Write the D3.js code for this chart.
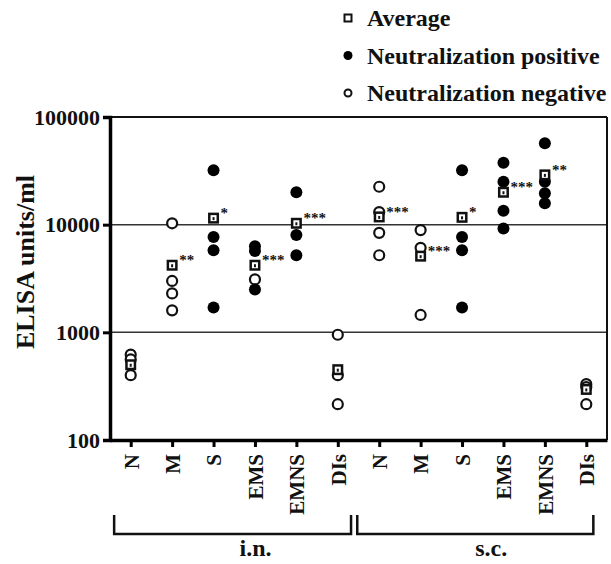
<!DOCTYPE html>
<html>
<head>
<meta charset="utf-8">
<script src="https://cdn.jsdelivr.net/npm/d3@7"></script>
<style>
  body { margin: 0; background: #fff; }
  svg text { font-family: "Liberation Serif", "Times New Roman", serif; font-weight: bold; }
</style>
</head>
<body>
<div id="chart"></div>
<script>
// data, i.n. group first then s.c.
const routes = ["i.n.", "s.c."];
const categories = ["N", "M", "S", "EMS", "EMNS", "DIs"];
const positiveValues = [
  [], [], [32000, 7700, 5800, 1700], [6300, 5700, 2500], [20000, 8000, 5200], [],
  [], [], [32000, 7700, 5800, 1700], [37500, 25000, 13500, 9200], [57000, 25000, 19600, 15800], []
];
const negativeValues = [
  [620, 560, 400], [10300, 3000, 2300, 1600], [], [3100], [], [950, 400, 215],
  [22500, 13100, 8400, 5200], [8900, 6100, 1450], [], [], [], [330, 310, 215]
];
const averages = [500, 4200, 11500, 4200, 10300, 450, 11800, 5100, 11700, 20000, 29000, 295];
const significance = ["", "**", "*", "***", "***", "", "***", "***", "*", "***", "**", ""];
const yTicks = [100, 1000, 10000, 100000];
const legendItems = ["Average", "Neutralization positive", "Neutralization negative"];

const width = 611, height = 564;
const margin = { top: 117, right: 4, bottom: 124, left: 110 };
const plotW = width - margin.left - margin.right;
const plotH = height - margin.top - margin.bottom;

const svg = d3.select("#chart").append("svg")
  .attr("width", width)
  .attr("height", height);

const g = svg.append("g")
  .attr("transform", `translate(${margin.left},${margin.top})`);

// one slot per route/category pair
const keys = [];
routes.forEach(r => categories.forEach(c => keys.push(r + "|" + c)));

const x = d3.scalePoint().domain(keys).range([0, plotW]).padding(0.5);
const y = d3.scaleLog().domain([100, 100000]).range([plotH, 0]);

// horizontal reference lines + frame
g.selectAll(".hline")
  .data([1000, 10000])
  .enter().append("line")
    .attr("x1", 0).attr("x2", plotW)
    .attr("y1", d => y(d)).attr("y2", d => y(d))
    .attr("stroke", "#333").attr("stroke-width", 1.5);

g.append("line")
  .attr("x1", 0).attr("x2", plotW)
  .attr("y1", y(100000)).attr("y2", y(100000))
  .attr("stroke", "#111").attr("stroke-width", 2);
g.append("line")
  .attr("x1", plotW).attr("x2", plotW)
  .attr("y1", 0).attr("y2", plotH)
  .attr("stroke", "#111").attr("stroke-width", 2);

// y axis
const yAxis = g.append("g")
  .call(d3.axisLeft(y).tickValues(yTicks).tickFormat(d3.format("d")).tickSize(7).tickPadding(3));
yAxis.select(".domain").attr("stroke-width", 3.5).attr("stroke", "#000");
yAxis.selectAll(".tick line").attr("stroke-width", 3).attr("stroke", "#000");
yAxis.selectAll("text")
  .style("font-size", "22px")
  .attr("fill", "#111");

// x axis
const xAxis = g.append("g")
  .attr("transform", `translate(0,${plotH})`)
  .call(d3.axisBottom(x).tickSize(7).tickSizeOuter(0).tickFormat(d => d.split("|")[1]));
xAxis.select(".domain").attr("stroke-width", 3.5).attr("stroke", "#000");
xAxis.selectAll(".tick line").attr("stroke-width", 3).attr("stroke", "#000");
xAxis.selectAll("text")
  .attr("transform", "rotate(-90)")
  .attr("x", -14)
  .attr("y", 0)
  .attr("dy", "0.35em")
  .style("text-anchor", "end")
  .style("font-size", "21px")
  .attr("fill", "#111");

// y title
svg.append("text")
  .attr("transform", `translate(34,${margin.top + 145}) rotate(-90)`)
  .attr("text-anchor", "middle")
  .style("font-size", "26px")
  .attr("fill", "#111")
  .text("ELISA units/ml");

// points
const negPts = [], posPts = [];
keys.forEach((k, i) => {
  negativeValues[i].forEach(v => negPts.push({ k, v }));
  positiveValues[i].forEach(v => posPts.push({ k, v }));
});

g.selectAll(".neg")
  .data(negPts)
  .enter().append("circle")
    .attr("cx", d => x(d.k))
    .attr("cy", d => y(d.v))
    .attr("r", 5)
    .attr("fill", "#fff")
    .attr("stroke", "#111")
    .attr("stroke-width", 2.2);

g.selectAll(".pos")
  .data(posPts)
  .enter().append("circle")
    .attr("cx", d => x(d.k))
    .attr("cy", d => y(d.v))
    .attr("r", 6)
    .attr("fill", "#000");

// average markers
const avg = g.selectAll(".avg")
  .data(keys.map((k, i) => ({ k, v: averages[i], s: significance[i] })))
  .enter().append("g")
    .attr("transform", d => `translate(${x(d.k)},${y(d.v)})`);

avg.append("rect")
  .attr("x", -5.5).attr("y", -5.5)
  .attr("width", 11).attr("height", 11)
  .attr("fill", "#111");
avg.append("rect")
  .attr("x", -3).attr("y", -3)
  .attr("width", 6).attr("height", 6)
  .attr("fill", "#fff");
avg.append("rect")
  .attr("x", -1).attr("y", -1)
  .attr("width", 2).attr("height", 3)
  .attr("fill", "#111");

avg.append("text")
  .attr("x", 7)
  .attr("y", 0)
  .style("font-size", "15px")
  .attr("fill", "#111")
  .text(d => d.s);

// route brackets under the category labels
const step = x.step();
routes.forEach((r, i) => {
  const first = x(r + "|" + categories[0]);
  const last = x(r + "|" + categories[categories.length - 1]);
  const x0 = first - step * (i === 0 ? 0.4 : 0.53);
  const x1 = last + step * (i === 0 ? 0.32 : 0.17);
  const top = 515, bottom = 534;
  svg.append("path")
    .attr("d", `M${margin.left + x0},${top}V${bottom}H${margin.left + x1}V${top}`)
    .attr("fill", "none")
    .attr("stroke", "#111")
    .attr("stroke-width", 2.5);
  svg.append("text")
    .attr("x", margin.left + (x0 + x1) / 2 + (i === 0 ? 23 : 16))
    .attr("y", 556)
    .attr("text-anchor", "middle")
    .style("font-size", "24px")
    .attr("fill", "#111")
    .text(r);
});

// legend
const legend = svg.append("g").attr("transform", "translate(348,18)");
legendItems.forEach((t, i) => {
  const row = legend.append("g").attr("transform", `translate(0,${i * 37.5})`);
  if (i === 0) {
    row.append("rect").attr("x", -4.5).attr("y", -4.5).attr("width", 9).attr("height", 9).attr("fill", "#111");
    row.append("rect").attr("x", -2.5).attr("y", -2.5).attr("width", 5).attr("height", 5).attr("fill", "#fff");
  } else if (i === 1) {
    row.append("circle").attr("r", 4.5).attr("fill", "#000");
  } else {
    row.append("circle").attr("r", 3.5).attr("fill", "#fff").attr("stroke", "#111").attr("stroke-width", 2);
  }
  row.append("text")
    .attr("x", 19)
    .attr("dy", "0.35em")
    .style("font-size", "24px")
    .attr("fill", "#111")
    .text(t);
});
</script>
</body>
</html>
